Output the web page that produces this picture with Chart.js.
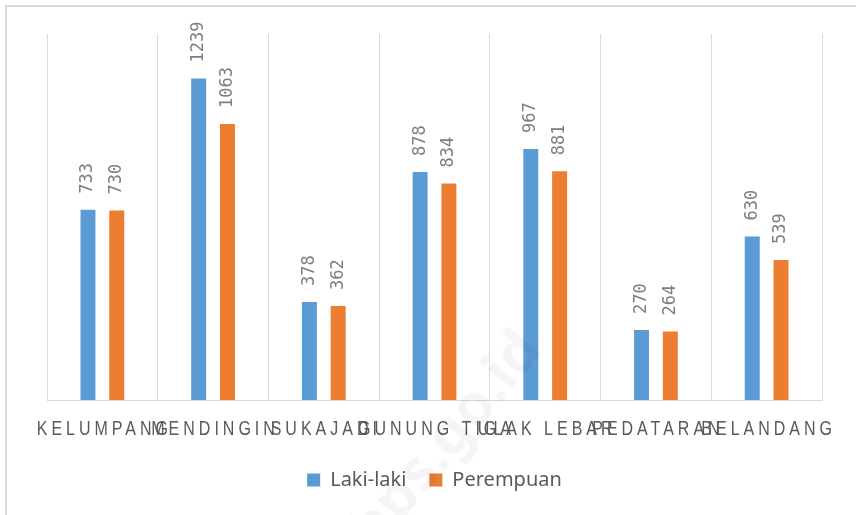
<!DOCTYPE html>
<html>
<head>
<meta charset="utf-8">
<script src="https://cdn.jsdelivr.net/npm/chart.js@4"></script>
<style>
  body { margin: 0; background: #fff; }
  #frame { position: absolute; left: 5px; top: 5px; width: 900px; height: 600px;
           border-top: 2px solid #d9d9d9; border-left: 2px solid #d9d9d9; }
  #wrap { position: absolute; left: 0; top: 0; width: 856px; height: 515px; }
</style>
</head>
<body>
<div id="frame"></div>
<div id="wrap"><canvas id="barChart"></canvas></div>
<script>
const categories = ['KELUMPANG', 'MENDINGIN', 'SUKAJADI', 'GUNUNG TIGA', 'ULAK LEBAR', 'PEDATARAN', 'BELANDANG'];
const lakiLaki = [733, 1239, 378, 878, 967, 270, 630];
const perempuan = [730, 1063, 362, 834, 881, 264, 539];

// value labels, rotated, above each bar
const barLabels = {
  id: 'barLabels',
  afterDatasetsDraw(chart) {
    const ctx = chart.ctx;
    ctx.save();
    ctx.font = '17px "DejaVu Sans Mono"';
    ctx.fillStyle = '#7f7f7f';
    ctx.textAlign = 'left';
    ctx.textBaseline = 'middle';
    chart.data.datasets.forEach((ds, i) => {
      chart.getDatasetMeta(i).data.forEach((bar, j) => {
        ctx.save();
        ctx.translate(bar.x, bar.y - 16);
        ctx.rotate(-Math.PI / 2);
        ctx.fillText(String(ds.data[j]), 0, 0);
        ctx.restore();
      });
    });
    ctx.restore();
  }
};

// category names, condensed with wide letter spacing
const xLabels = {
  id: 'xLabels',
  afterDraw(chart) {
    const ctx = chart.ctx;
    const xs = chart.scales.x;
    const sx = 0.8;
    ctx.save();
    ctx.scale(sx, 1);
    ctx.font = '20px "Liberation Sans"';
    ctx.letterSpacing = '5px';
    ctx.fillStyle = '#595959';
    ctx.textAlign = 'center';
    ctx.textBaseline = 'alphabetic';
    categories.forEach((c, i) => {
      ctx.fillText(c, (xs.getPixelForTick(i) + 2) / sx, 435);
    });
    ctx.restore();

    // faint watermark
    ctx.save();
    ctx.translate(432, 428);
    ctx.rotate(-50 * Math.PI / 180);
    ctx.font = 'bold 58px "Noto Sans"';
    ctx.fillStyle = 'rgba(0,0,0,0.04)';
    ctx.textAlign = 'center';
    ctx.fillText('bps.go.id', 0, 20);
    ctx.restore();
  }
};

new Chart(document.getElementById('barChart'), {
  type: 'bar',
  data: {
    labels: categories,
    datasets: [
      { label: 'Laki-laki', data: lakiLaki, backgroundColor: '#5b9bd5',
        categoryPercentage: 0.52, barPercentage: 0.52 },
      { label: 'Perempuan', data: perempuan, backgroundColor: '#ed7d31',
        categoryPercentage: 0.52, barPercentage: 0.52 }
    ]
  },
  options: {
    responsive: true,
    maintainAspectRatio: false,
    animation: false,
    layout: { padding: { left: 47, right: 34, top: 34, bottom: 15 } },
    scales: {
      x: {
        grid: { color: '#d9d9d9', drawTicks: false },
        border: { color: '#d9d9d9' },
        ticks: { display: false },
        afterFit(scale) { scale.height = 47; }
      },
      y: { display: false, min: 0, max: 1410 }
    },
    plugins: {
      legend: {
        position: 'bottom',
        labels: {
          boxWidth: 13, boxHeight: 13, padding: 23,
          color: '#595959',
          font: { family: '"Noto Sans"', size: 20 }
        }
      },
      tooltip: { enabled: false }
    }
  },
  plugins: [barLabels, xLabels]
});
</script>
</body>
</html>
